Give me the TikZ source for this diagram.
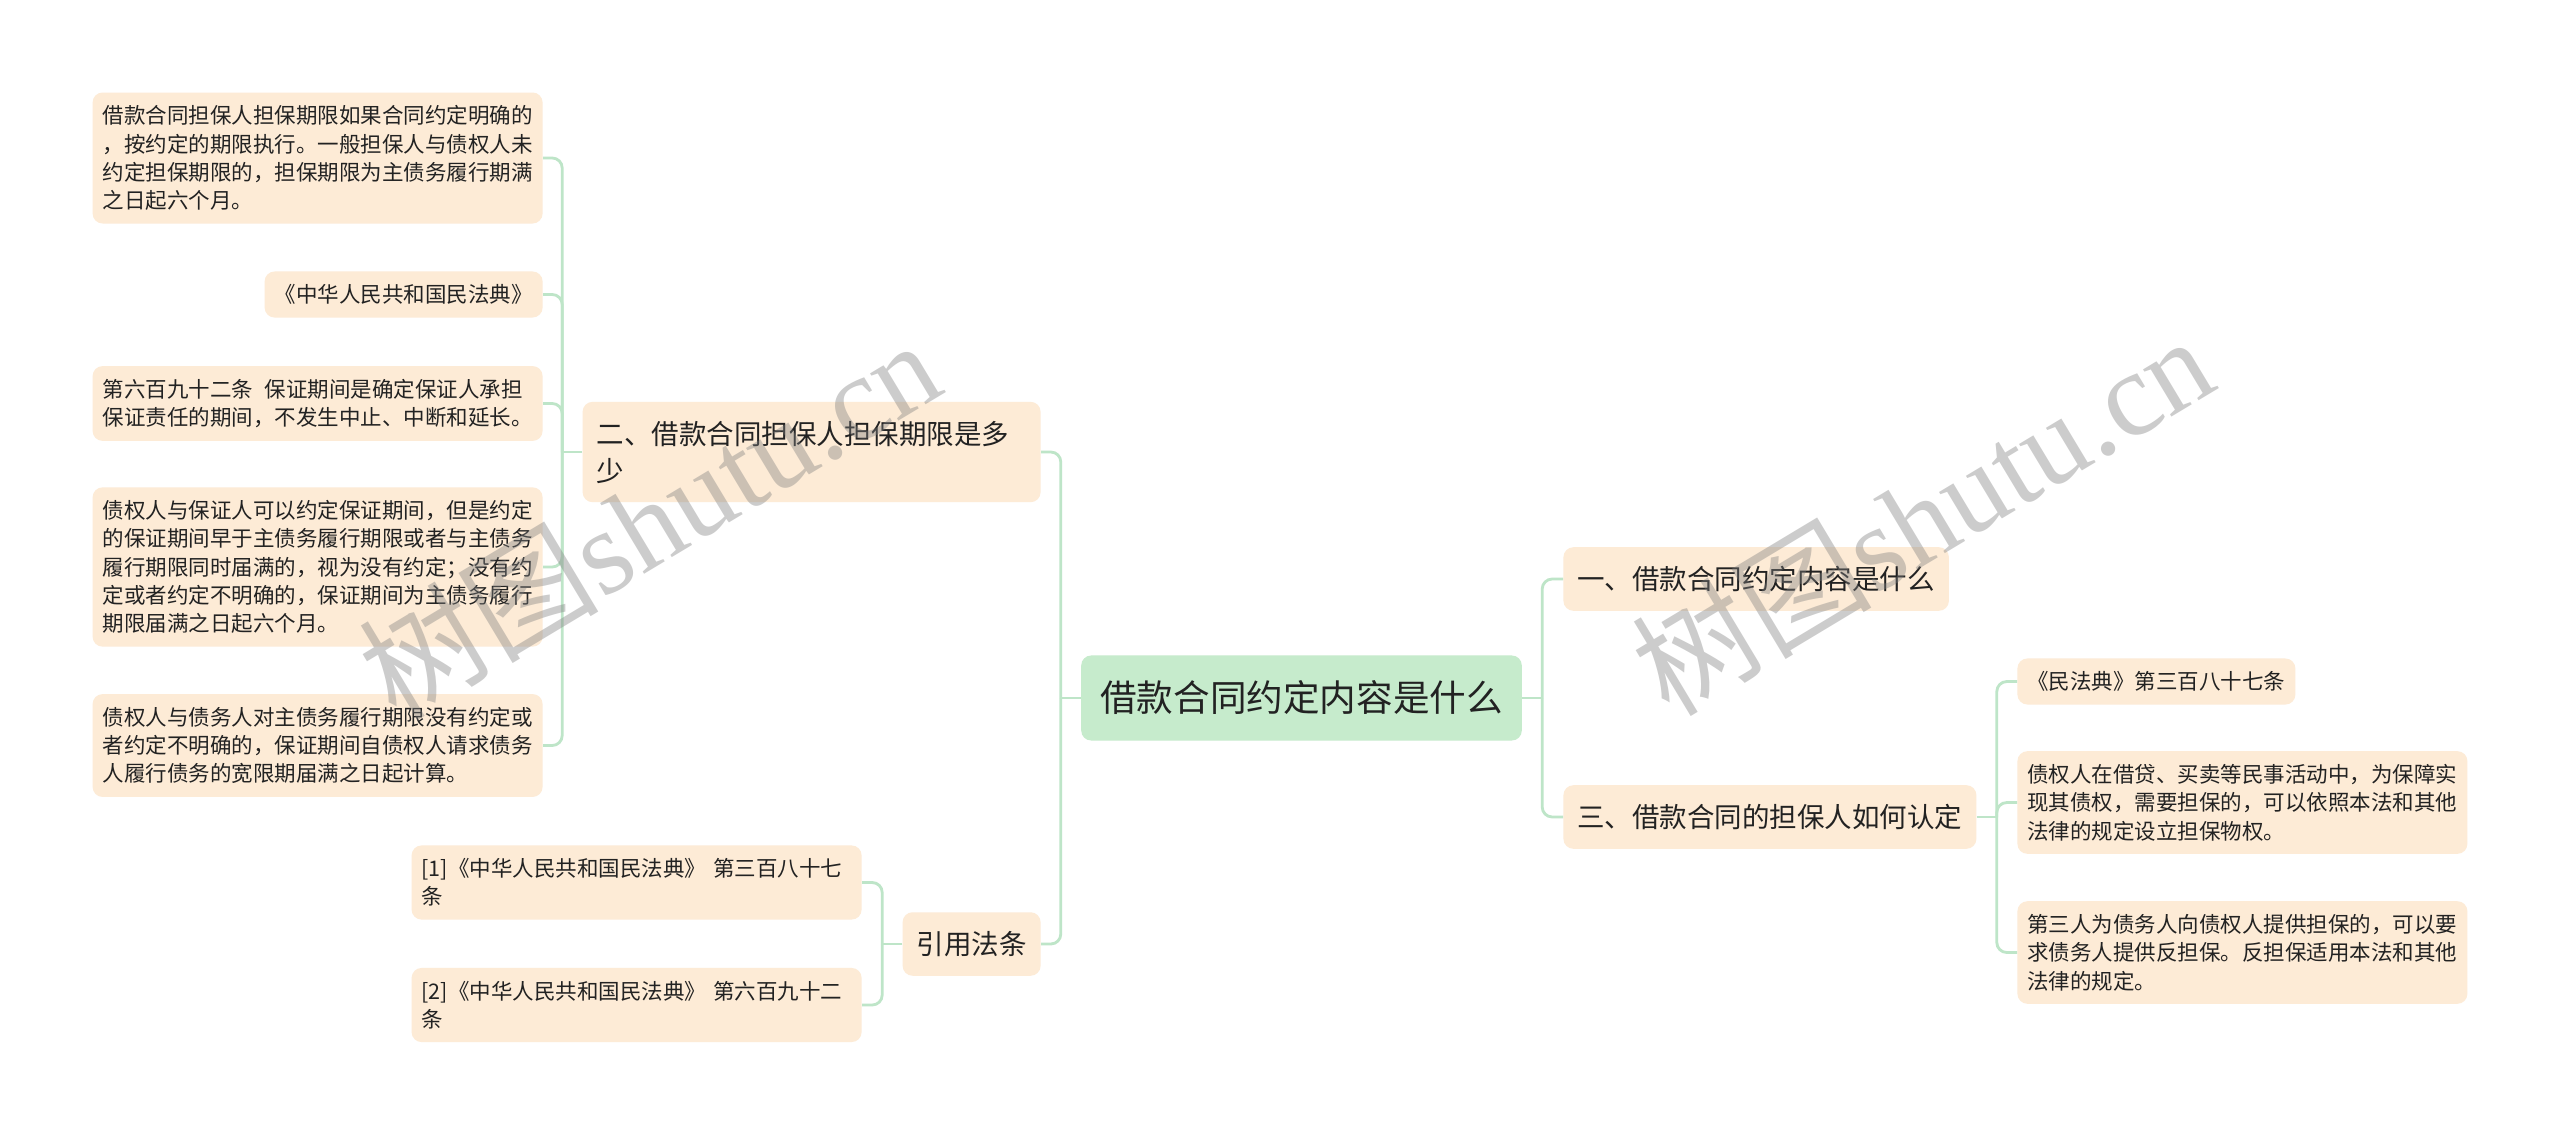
\documentclass[tikz,border=0pt]{standalone}
\usepackage{fontspec}
\setmainfont{Noto Sans CJK SC}
\newfontfamily\wmserif{Liberation Serif}
\usepackage{tikz}
\definecolor{root-green}{RGB}{198,235,204}
\definecolor{leaf-peach}{RGB}{253,235,214}
\definecolor{link-green}{RGB}{190,229,200}
\definecolor{ink}{RGB}{34,34,34}

\begin{document}
\begin{tikzpicture}[x=0.5pt, y=-0.5pt,%loan contract mind map
  box/.style={rounded corners=5pt, align=left, text=ink, inner xsep=5pt, inner ysep=6.5pt},
  rootbox/.style={box, fill=root-green, inner xsep=9.5pt, inner ysep=12.75pt, font=\fontsize{18.3pt}{22pt}\selectfont},
  topicbox/.style={box, fill=leaf-peach, inner xsep=7pt, inner ysep=9.5pt, font=\fontsize{13.75pt}{18.5pt}\selectfont},
  leafbox/.style={box, fill=leaf-peach, font=\fontsize{10.75pt}{14.15pt}\selectfont},
  widebox/.style={text width=215pt},
  link/.style={draw=link-green, line width=1.4pt, rounded corners=5pt},
  wmark/.style={rotate=31, text=gray, opacity=0.4, inner sep=0pt, font=\fontsize{60pt}{60pt}\selectfont}]
\fill[white] (0,0) rectangle (2560,1136);
\useasboundingbox (0,0) rectangle (2560,1136);

\node[rootbox] (root) at (1301.5,698) {借款合同约定内容是什么};

% left side
\node[topicbox, widebox, anchor=east] (er) at (1041,452) {二、借款合同担保人担保期限是多\\少};
\node[topicbox, anchor=east] (yin) at (1041,944) {引用法条};

\node[leafbox, widebox, anchor=east] (l1) at (543,158) {借款合同担保人担保期限如果合同约定明确的\\，按约定的期限执行。一般担保人与债权人未\\约定担保期限的，担保期限为主债务履行期满\\之日起六个月。};
\node[leafbox, anchor=east] (l2) at (543,294.5) {《中华人民共和国民法典》};
\node[leafbox, widebox, anchor=east] (l3) at (543,403.5) {第六百九十二条\hspace{0.55em}保证期间是确定保证人承担\\保证责任的期间，不发生中止、中断和延长。};
\node[leafbox, widebox, anchor=east] (l4) at (543,567) {债权人与保证人可以约定保证期间，但是约定\\的保证期间早于主债务履行期限或者与主债务\\履行期限同时届满的，视为没有约定；没有约\\定或者约定不明确的，保证期间为主债务履行\\期限届满之日起六个月。};
\node[leafbox, widebox, anchor=east] (l5) at (543,745.5) {债权人与债务人对主债务履行期限没有约定或\\者约定不明确的，保证期间自债权人请求债务\\人履行债务的宽限期届满之日起计算。};

\node[leafbox, widebox, anchor=east] (c1) at (862,882.5) {[1]《中华人民共和国民法典》 第三百八十七\\条};
\node[leafbox, widebox, anchor=east] (c2) at (862,1005) {[2]《中华人民共和国民法典》 第六百九十二\\条};

% right side
\node[topicbox, anchor=west] (yi) at (1563,579) {一、借款合同约定内容是什么};
\node[topicbox, anchor=west] (san) at (1563,817) {三、借款合同的担保人如何认定};

\node[leafbox, anchor=west] (r1) at (2017,681.5) {《民法典》第三百八十七条};
\node[leafbox, widebox, anchor=west] (r2) at (2017,802.5) {债权人在借贷、买卖等民事活动中，为保障实\\现其债权，需要担保的，可以依照本法和其他\\法律的规定设立担保物权。};
\node[leafbox, widebox, anchor=west] (r3) at (2017,952.5) {第三人为债务人向债权人提供担保的，可以要\\求债务人提供反担保。反担保适用本法和其他\\法律的规定。};

% connectors
\coordinate (bl) at ([xshift=-10pt]root.west);
\draw[link] (root.west) -- (bl);
\foreach \n in {er,yin} \draw[link] (bl) |- (\n.east);
\coordinate (br) at ([xshift=10pt]root.east);
\draw[link] (root.east) -- (br);
\foreach \n in {yi,san} \draw[link] (br) |- (\n.west);

\coordinate (be) at ([xshift=-10pt]er.west);
\draw[link] (er.west) -- (be);
\foreach \n in {l1,l2,l3,l4,l5} \draw[link] (be) |- (\n.east);
\coordinate (by) at ([xshift=-10pt]yin.west);
\draw[link] (yin.west) -- (by);
\foreach \n in {c1,c2} \draw[link] (by) |- (\n.east);
\coordinate (bs) at ([xshift=10pt]san.east);
\draw[link] (san.east) -- (bs);
\foreach \n in {r1,r2,r3} \draw[link] (bs) |- (\n.west);

% watermark
\node[wmark] (wm1) at (649,518) {树图{\wmserif shutu.cn}};
\node[wmark] (wm2) at (1922,514) {树图{\wmserif shutu.cn}};
\end{tikzpicture}
\end{document}
